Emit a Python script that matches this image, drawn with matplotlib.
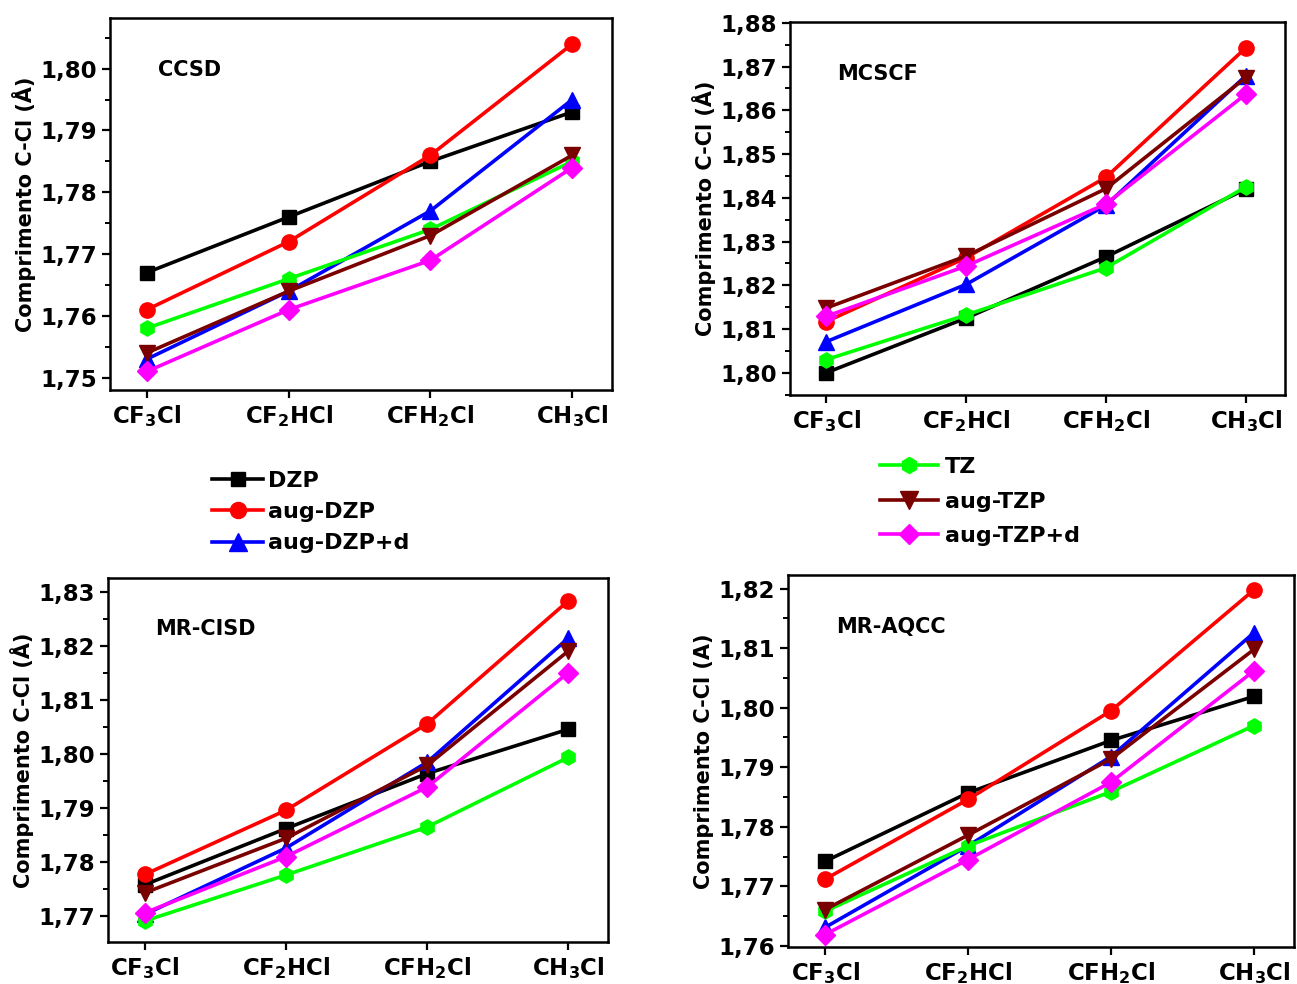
import matplotlib
matplotlib.use('Agg')
import matplotlib.pyplot as plt
from matplotlib.ticker import MultipleLocator, FuncFormatter

plt.rcParams['font.family'] = ['DejaVu Sans']
plt.rcParams['font.weight'] = 'bold'
plt.rcParams['mathtext.fontset'] = 'dejavusans'
plt.rcParams['mathtext.default'] = 'bf'

# Moléculas (eixo x)
moleculas = ['CF$_3$Cl', 'CF$_2$HCl', 'CFH$_2$Cl', 'CH$_3$Cl']

# Bases e estilos
bases = ['DZP', 'aug-DZP', 'aug-DZP+d', 'TZ', 'aug-TZP', 'aug-TZP+d']
cores = ['#000000', '#ff0000', '#0000ff', '#00ff00', '#7a0000', '#ff00ff']
marcadores = ['s', 'o', '^', 'h', 'v', 'D']
tamanhos = [10, 11, 12, 11, 12, 10]

# Comprimentos C-Cl (Å), uma linha por base
ccsd = [
    [1.767, 1.776, 1.785, 1.793],
    [1.761, 1.772, 1.786, 1.804],
    [1.753, 1.764, 1.777, 1.795],
    [1.758, 1.766, 1.774, 1.785],
    [1.754, 1.764, 1.773, 1.786],
    [1.751, 1.761, 1.769, 1.784],
]
mcscf = [
    [1.800, 1.8125, 1.8265, 1.842],
    [1.8117, 1.8263, 1.8447, 1.8743],
    [1.8071, 1.8202, 1.8383, 1.8679],
    [1.803, 1.8132, 1.824, 1.8425],
    [1.8148, 1.8267, 1.8421, 1.8675],
    [1.8129, 1.8244, 1.8386, 1.8637],
]
mrcisd = [
    [1.7757, 1.7861, 1.7963, 1.8045],
    [1.7776, 1.7895, 1.8055, 1.8283],
    [1.7702, 1.7825, 1.7984, 1.8214],
    [1.7690, 1.7775, 1.7864, 1.7993],
    [1.7742, 1.7843, 1.7978, 1.8190],
    [1.7705, 1.7809, 1.7938, 1.8150],
]
mraqcc = [
    [1.7742, 1.7857, 1.7945, 1.8019],
    [1.7712, 1.7846, 1.7995, 1.8198],
    [1.7631, 1.7768, 1.7918, 1.8126],
    [1.7658, 1.7768, 1.7859, 1.7970],
    [1.7661, 1.7786, 1.7914, 1.8098],
    [1.7619, 1.7745, 1.7875, 1.8062],
]


def virgula(v, pos):
    return f'{v:.2f}'.replace('.', ',')


def painel(ax, dados, titulo, ylim, ylabel):
    x = range(len(moleculas))
    for i, serie in enumerate(dados):
        ax.plot(x, serie, color=cores[i], marker=marcadores[i], markersize=tamanhos[i],
                linewidth=2.6, label=bases[i])
    ax.set_xlim(-0.26, 3.28)
    ax.set_ylim(*ylim)
    ax.set_xticks(list(x))
    ax.set_xticklabels(moleculas, fontsize=16.5, fontweight='bold')
    ax.yaxis.set_major_locator(MultipleLocator(0.01))
    ax.yaxis.set_minor_locator(MultipleLocator(0.005))
    ax.yaxis.set_major_formatter(FuncFormatter(virgula))
    ax.tick_params(axis='both', which='major', direction='out', length=6, width=1.6,
                   labelsize=16.5)
    ax.tick_params(axis='y', which='minor', direction='out', length=3.5, width=1.4)
    for lbl in ax.get_yticklabels():
        lbl.set_fontweight('bold')
    for s in ax.spines.values():
        s.set_linewidth(1.8)
    ax.set_ylabel(ylabel, fontsize=15, fontweight='bold', labelpad=3)
    ax.text(0.095, 0.86, titulo, transform=ax.transAxes, fontsize=15,
            fontweight='bold', ha='left', va='center')


W, H = 1297, 984
fig = plt.figure(figsize=(W / 100, H / 100), dpi=100)


def caixa(l, t, r, b):
    return [l / W, 1 - b / H, (r - l) / W, (b - t) / H]


ax1 = fig.add_axes(caixa(110, 18, 612, 390))
ax2 = fig.add_axes(caixa(790, 22, 1285, 395))
ax3 = fig.add_axes(caixa(108, 578, 608, 942))
ax4 = fig.add_axes(caixa(788, 575, 1294, 947))

painel(ax1, ccsd, 'CCSD', (1.748, 1.8082), 'Comprimento C-Cl (Å)')
painel(ax2, mcscf, 'MCSCF', (1.7949, 1.8802), 'Comprimento C-Cl (Å)')
painel(ax3, mrcisd, 'MR-CISD', (1.7651, 1.8325), 'Comprimento C-Cl (Å)')
painel(ax4, mraqcc, 'MR-AQCC', (1.7598, 1.8223), 'Comprimento C-Cl (A)')

# Legendas entre as linhas de gráficos
h, l = ax1.get_legend_handles_labels()
fig.legend(h[:3], l[:3], loc='upper left', bbox_to_anchor=(201 / W, 1 - 460 / H),
           frameon=False, prop={'size': 16, 'weight': 'bold'}, handlelength=2.3,
           handletextpad=0.2, labelspacing=0.5, borderpad=0, markerscale=1.05)
fig.legend(h[3:], l[3:], loc='upper left', bbox_to_anchor=(869 / W, 1 - 446 / H),
           frameon=False, prop={'size': 16, 'weight': 'bold'}, handlelength=2.6,
           handletextpad=0.3, labelspacing=0.65, borderpad=0, markerscale=1.05)

fig.savefig('out.png', dpi=100)
